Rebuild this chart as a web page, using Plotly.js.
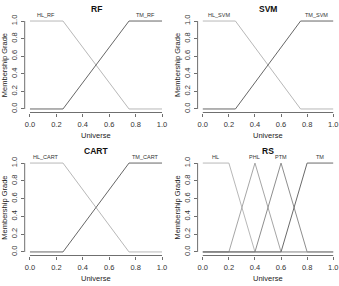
<!DOCTYPE html>
<html>
<head>
<meta charset="utf-8">
<script src="https://cdn.plot.ly/plotly-3.0.1.min.js"></script>
<style>
  html, body { margin: 0; padding: 0; background: #fff; }
  #chart { width: 339px; height: 286px; }
</style>
</head>
<body>
<div id="chart"></div>
<script>
// Fuzzy membership functions on the unit universe
const panelTitles = ['RF', 'SVM', 'CART', 'RS'];

// two-set models (RF, SVM, CART)
const hlX = [0, 0.25, 0.75, 1];
const hlY = [1, 1, 0, 0];
const tmX = [0, 0.25, 0.75, 1];
const tmY = [0, 0, 1, 1];
const hlLabels = ['HL_RF', 'HL_SVM', 'HL_CART'];
const tmLabels = ['TM_RF', 'TM_SVM', 'TM_CART'];
const hlLabelX = 0.125;
const tmLabelX = 0.875;

// four-set model (RS)
const rsNames = ['HL', 'PHL', 'PTM', 'TM'];
const rsX = [
  [0, 0.2, 0.4, 1],
  [0, 0.2, 0.4, 0.6, 1],
  [0, 0.4, 0.6, 0.8, 1],
  [0, 0.6, 0.8, 1]
];
const rsY = [
  [1, 1, 0, 0],
  [0, 0, 1, 0, 0],
  [0, 0, 1, 0, 0],
  [0, 0, 1, 1]
];
const rsLabelX = [0.1, 0.4, 0.6, 0.9];

const tickVals = [0, 0.2, 0.4, 0.6, 0.8, 1];
const tickText = ['0.0', '0.2', '0.4', '0.6', '0.8', '1.0'];

// styling
const W = 339, H = 286;
const FONT = 'Liberation Sans, Arial, Helvetica, sans-serif';
const hlColor = '#b8b8b8';
const tmColor = '#666666';
const rsColors = ['#b8b8b8', '#a6a6a6', '#8e8e8e', '#6a6a6a'];
const axisColor = '#4a4a4a';

// panel geometry in pixels: left, right, top, bottom of the plotting region
const panels = [
  { l: 24.7, r: 167.3, t: 17.5, b: 112.5 },
  { l: 197.6, r: 338.4, t: 17.5, b: 112.5 },
  { l: 24.7, r: 167.3, t: 159.5, b: 255.5 },
  { l: 197.6, r: 338.4, t: 159.5, b: 255.5 }
];
const px = x => x / W;
const py = y => 1 - y / H;

const traces = [];
const annotations = [];
const shapes = [];
const layout = {
  width: W, height: H,
  margin: { l: 0, r: 0, t: 0, b: 0 },
  paper_bgcolor: '#fff', plot_bgcolor: '#fff',
  showlegend: false,
  font: { family: FONT, color: '#222', size: 7 }
};

function textAt(text, x, y, size, extra) {
  return Object.assign({ text: text, xref: 'paper', yref: 'paper', x: px(x), y: py(y),
    xanchor: 'center', yanchor: 'middle', showarrow: false,
    font: { family: FONT, size: size, color: '#222' } }, extra || {});
}

panels.forEach((p, i) => {
  const n = i + 1;
  const xa = 'x' + (n === 1 ? '' : n);
  const ya = 'y' + (n === 1 ? '' : n);
  const xKey = 'xaxis' + (n === 1 ? '' : n);
  const yKey = 'yaxis' + (n === 1 ? '' : n);

  layout[xKey] = {
    domain: [px(p.l), px(p.r)], anchor: ya,
    range: [-0.04, 1.04], showgrid: false, zeroline: false, showline: false,
    tickmode: 'array', tickvals: tickVals, ticktext: tickText,
    ticks: 'outside', ticklen: 3, tickwidth: 0.8, tickcolor: axisColor,
    tickfont: { family: FONT, size: 7.5, color: '#333' }, ticklabelstandoff: 1
  };
  layout[yKey] = {
    domain: [py(p.b), py(p.t)], anchor: xa,
    range: [-0.04, 1.04], showgrid: false, zeroline: false, showline: false,
    tickmode: 'array', tickvals: tickVals, ticktext: tickText,
    ticks: 'outside', ticklen: 3, tickwidth: 0.8, tickcolor: axisColor,
    tickangle: -90,
    tickfont: { family: FONT, size: 7.5, color: '#333' }, ticklabelstandoff: 1
  };

  // axis lines spanning 0..1 only
  shapes.push({ type: 'line', xref: xa, yref: 'paper', x0: 0, x1: 1,
    y0: py(p.b), y1: py(p.b), line: { color: axisColor, width: 0.8 } });
  shapes.push({ type: 'line', xref: 'paper', yref: ya, x0: px(p.l), x1: px(p.l),
    y0: 0, y1: 1, line: { color: axisColor, width: 0.8 } });

  const cx = (p.l + p.r) / 2;
  annotations.push(textAt('<b>' + panelTitles[i] + '</b>', cx, p.t - 8.5, 8.5,
    { font: { family: FONT, size: 8.5, color: '#111' } }));
  annotations.push(textAt('Universe', cx, p.b + 22.5, 7.5));
  annotations.push(textAt('Membership Grade', p.l - 20.5, (p.t + p.b) / 2, 7.5, { textangle: -90 }));

  const lab = (text, x) => ({ text: text, xref: xa, yref: ya, x: x, y: 1,
    xanchor: 'center', yanchor: 'bottom', yshift: 1, showarrow: false,
    font: { family: FONT, size: 5.5, color: '#333' } });

  if (i < 3) {
    traces.push({ x: hlX, y: hlY, xaxis: xa, yaxis: ya, mode: 'lines',
      line: { color: hlColor, width: 1 }, hoverinfo: 'skip' });
    traces.push({ x: tmX, y: tmY, xaxis: xa, yaxis: ya, mode: 'lines',
      line: { color: tmColor, width: 1 }, hoverinfo: 'skip' });
    annotations.push(lab(hlLabels[i], hlLabelX));
    annotations.push(lab(tmLabels[i], tmLabelX));
  } else {
    rsNames.forEach((name, k) => {
      traces.push({ x: rsX[k], y: rsY[k], xaxis: xa, yaxis: ya, mode: 'lines',
        line: { color: rsColors[k], width: 1 }, hoverinfo: 'skip' });
      annotations.push(lab(name, rsLabelX[k]));
    });
  }
});

layout.annotations = annotations;
layout.shapes = shapes;

Plotly.newPlot('chart', traces, layout, { staticPlot: true, displayModeBar: false });
</script>
</body>
</html>
